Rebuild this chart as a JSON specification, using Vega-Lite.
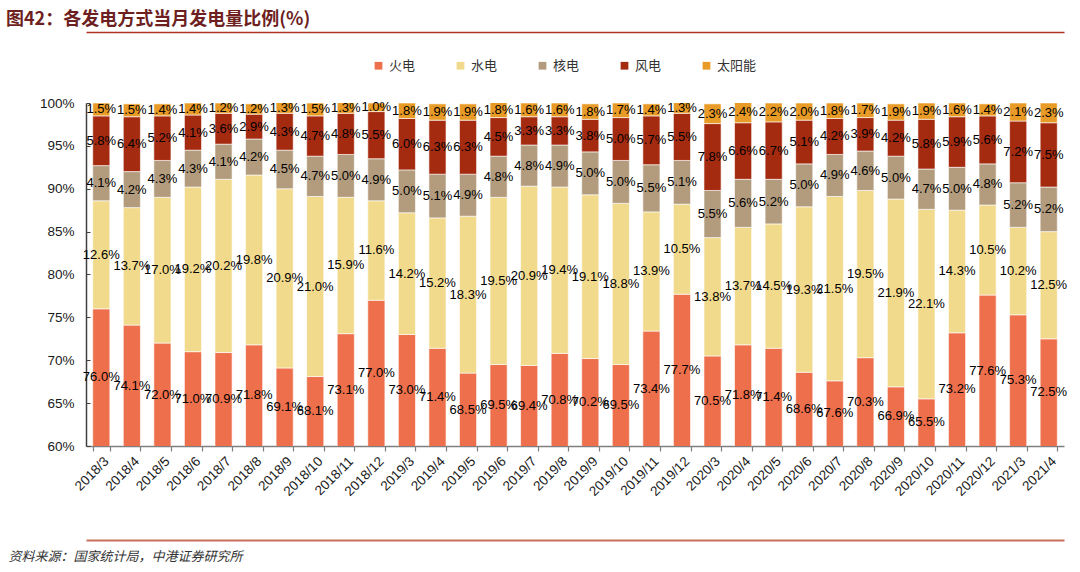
{
  "$schema": "https://vega.github.io/schema/vega-lite/v6.json",
  "autosize": {"type": "none"},
  "width": 978,
  "height": 343,
  "padding": {"left": 86, "top": 103, "right": 16, "bottom": 126},
  "title": {
    "text": "图42：各发电方式当月发电量比例(%)",
    "anchor": "start",
    "frame": "group",
    "dx": -80,
    "dy": 1,
    "font": "Noto Sans CJK SC",
    "fontSize": 18,
    "fontWeight": "bold",
    "color": "#6e1f1f"
  },
  "datasets": {
    "gen": [
      {"m": "2018/3", "火电": 0.760, "水电": 0.126, "核电": 0.041, "风电": 0.058, "太阳能": 0.015},
      {"m": "2018/4", "火电": 0.741, "水电": 0.137, "核电": 0.042, "风电": 0.064, "太阳能": 0.015},
      {"m": "2018/5", "火电": 0.720, "水电": 0.170, "核电": 0.043, "风电": 0.052, "太阳能": 0.014},
      {"m": "2018/6", "火电": 0.710, "水电": 0.192, "核电": 0.043, "风电": 0.041, "太阳能": 0.014},
      {"m": "2018/7", "火电": 0.709, "水电": 0.202, "核电": 0.041, "风电": 0.036, "太阳能": 0.012},
      {"m": "2018/8", "火电": 0.718, "水电": 0.198, "核电": 0.042, "风电": 0.029, "太阳能": 0.012},
      {"m": "2018/9", "火电": 0.691, "水电": 0.209, "核电": 0.045, "风电": 0.043, "太阳能": 0.013},
      {"m": "2018/10", "火电": 0.681, "水电": 0.210, "核电": 0.047, "风电": 0.047, "太阳能": 0.015},
      {"m": "2018/11", "火电": 0.731, "水电": 0.159, "核电": 0.050, "风电": 0.048, "太阳能": 0.013},
      {"m": "2018/12", "火电": 0.770, "水电": 0.116, "核电": 0.049, "风电": 0.055, "太阳能": 0.010},
      {"m": "2019/3", "火电": 0.730, "水电": 0.142, "核电": 0.050, "风电": 0.060, "太阳能": 0.018},
      {"m": "2019/4", "火电": 0.714, "水电": 0.152, "核电": 0.051, "风电": 0.063, "太阳能": 0.019},
      {"m": "2019/5", "火电": 0.685, "水电": 0.183, "核电": 0.049, "风电": 0.063, "太阳能": 0.019},
      {"m": "2019/6", "火电": 0.695, "水电": 0.195, "核电": 0.048, "风电": 0.045, "太阳能": 0.018},
      {"m": "2019/7", "火电": 0.694, "水电": 0.209, "核电": 0.048, "风电": 0.033, "太阳能": 0.016},
      {"m": "2019/8", "火电": 0.708, "水电": 0.194, "核电": 0.049, "风电": 0.033, "太阳能": 0.016},
      {"m": "2019/9", "火电": 0.702, "水电": 0.191, "核电": 0.050, "风电": 0.038, "太阳能": 0.018},
      {"m": "2019/10", "火电": 0.695, "水电": 0.188, "核电": 0.050, "风电": 0.050, "太阳能": 0.017},
      {"m": "2019/11", "火电": 0.734, "水电": 0.139, "核电": 0.055, "风电": 0.057, "太阳能": 0.014},
      {"m": "2019/12", "火电": 0.777, "水电": 0.105, "核电": 0.051, "风电": 0.055, "太阳能": 0.013},
      {"m": "2020/3", "火电": 0.705, "水电": 0.138, "核电": 0.055, "风电": 0.078, "太阳能": 0.023},
      {"m": "2020/4", "火电": 0.718, "水电": 0.137, "核电": 0.056, "风电": 0.066, "太阳能": 0.024},
      {"m": "2020/5", "火电": 0.714, "水电": 0.145, "核电": 0.052, "风电": 0.067, "太阳能": 0.022},
      {"m": "2020/6", "火电": 0.686, "水电": 0.193, "核电": 0.050, "风电": 0.051, "太阳能": 0.020},
      {"m": "2020/7", "火电": 0.676, "水电": 0.215, "核电": 0.049, "风电": 0.042, "太阳能": 0.018},
      {"m": "2020/8", "火电": 0.703, "水电": 0.195, "核电": 0.046, "风电": 0.039, "太阳能": 0.017},
      {"m": "2020/9", "火电": 0.669, "水电": 0.219, "核电": 0.050, "风电": 0.042, "太阳能": 0.019},
      {"m": "2020/10", "火电": 0.655, "水电": 0.221, "核电": 0.047, "风电": 0.058, "太阳能": 0.019},
      {"m": "2020/11", "火电": 0.732, "水电": 0.143, "核电": 0.050, "风电": 0.059, "太阳能": 0.016},
      {"m": "2020/12", "火电": 0.776, "水电": 0.105, "核电": 0.048, "风电": 0.056, "太阳能": 0.014},
      {"m": "2021/3", "火电": 0.753, "水电": 0.102, "核电": 0.052, "风电": 0.072, "太阳能": 0.021},
      {"m": "2021/4", "火电": 0.725, "水电": 0.125, "核电": 0.052, "风电": 0.075, "太阳能": 0.023}
    ],
    "series": [
      {"type": "火电", "rank": 1},
      {"type": "水电", "rank": 2},
      {"type": "核电", "rank": 3},
      {"type": "风电", "rank": 4},
      {"type": "太阳能", "rank": 5}
    ]
  },
  "data": {"name": "gen"},
  "transform": [
    {"fold": ["火电", "水电", "核电", "风电", "太阳能"], "as": ["type", "share"]},
    {"lookup": "type", "from": {"data": {"name": "series"}, "key": "type", "fields": ["rank"]}}
  ],
  "layer": [
    {
      "mark": {"type": "bar", "clip": true, "stroke": "#ffffff", "strokeWidth": 0.6},
      "encoding": {
        "x": {
          "field": "m",
          "type": "nominal",
          "sort": null,
          "scale": {"paddingInner": 0.44, "paddingOuter": 0.22},
          "axis": {
            "title": null,
            "labelAngle": -45,
            "labelFont": "Liberation Sans",
            "labelFontSize": 13.5,
            "labelColor": "#1a1a1a",
            "labelPadding": 3,
            "domainColor": "#7f7f7f",
            "domainWidth": 1.5,
            "tickColor": "#7f7f7f",
            "tickWidth": 1.2,
            "tickSize": 5,
            "tickBand": "extent"
          }
        },
        "y": {
          "field": "share",
          "type": "quantitative",
          "stack": "zero",
          "scale": {"domain": [0.6, 1]},
          "axis": {
            "title": null,
            "format": ".0%",
            "values": [0.6, 0.65, 0.7, 0.75, 0.8, 0.85, 0.9, 0.95, 1],
            "grid": false,
            "labelFont": "Liberation Sans",
            "labelFontSize": 13.5,
            "labelColor": "#1a1a1a",
            "labelPadding": 16,
            "domainColor": "#404040",
            "domainWidth": 1.5,
            "tickColor": "#404040",
            "tickSize": -4
          }
        },
        "color": {
          "field": "type",
          "type": "nominal",
          "scale": {
            "domain": ["火电", "水电", "核电", "风电", "太阳能"],
            "range": ["#ee6f4b", "#f2da8c", "#b39c7d", "#a52b10", "#e89b26"]
          },
          "legend": {
            "title": null,
            "orient": "none",
            "direction": "horizontal",
            "legendX": 286,
            "legendY": -44,
            "symbolType": "square",
            "symbolSize": 60,
            "symbolStrokeWidth": 0,
            "labelFont": "Noto Sans CJK SC",
            "labelFontSize": 13,
            "labelColor": "#333333",
            "labelOffset": 4,
            "columnPadding": 38
          }
        },
        "order": {"field": "rank", "type": "quantitative", "sort": "ascending"}
      }
    },
    {
      "mark": {"type": "text", "font": "Liberation Sans", "fontSize": 13, "color": "#000000", "baseline": "middle"},
      "encoding": {
        "x": {
          "field": "m",
          "type": "nominal",
          "sort": null,
          "axis": {
            "orient": "bottom",
            "offset": 94,
            "labels": false,
            "ticks": false,
            "domainColor": "#c8705a",
            "domainWidth": 2,
            "title": "资料来源：国家统计局，中港证券研究所",
            "titleAnchor": "start",
            "titleAlign": "left",
            "titleX": -78,
            "titleY": 16,
            "titleBaseline": "middle",
            "titleFont": "Noto Sans CJK SC",
            "titleFontSize": 13,
            "titleFontStyle": "italic",
            "titleFontWeight": "normal",
            "titleColor": "#333333"
          }
        },
        "y": {
          "field": "share",
          "type": "quantitative",
          "stack": "zero",
          "bandPosition": 0.5,
          "scale": {"domain": [0.6, 1]},
          "axis": null
        },
        "detail": {"field": "type"},
        "order": {"field": "rank", "type": "quantitative", "sort": "ascending"},
        "text": {
          "condition": {"test": "datum.type === '火电'", "value": ""},
          "field": "share",
          "type": "quantitative",
          "format": ".1%"
        }
      }
    },
    {
      "transform": [{"filter": "datum.type === '火电'"}],
      "mark": {"type": "text", "font": "Liberation Sans", "fontSize": 13, "color": "#000000", "baseline": "middle"},
      "encoding": {
        "x": {
          "field": "m",
          "type": "nominal",
          "sort": null,
          "axis": {
            "orient": "top",
            "offset": 71,
            "labels": false,
            "ticks": false,
            "title": null,
            "domainColor": "#b03222",
            "domainWidth": 1.5
          }
        },
        "y": {
          "field": "share",
          "type": "quantitative",
          "stack": null,
          "scale": {"domain": [0.6, 1.4]},
          "axis": null
        },
        "text": {"field": "share", "type": "quantitative", "format": ".1%"}
      }
    }
  ],
  "resolve": {"scale": {"y": "independent"}, "axis": {"x": "independent"}},
  "config": {"view": {"stroke": null}}
}
